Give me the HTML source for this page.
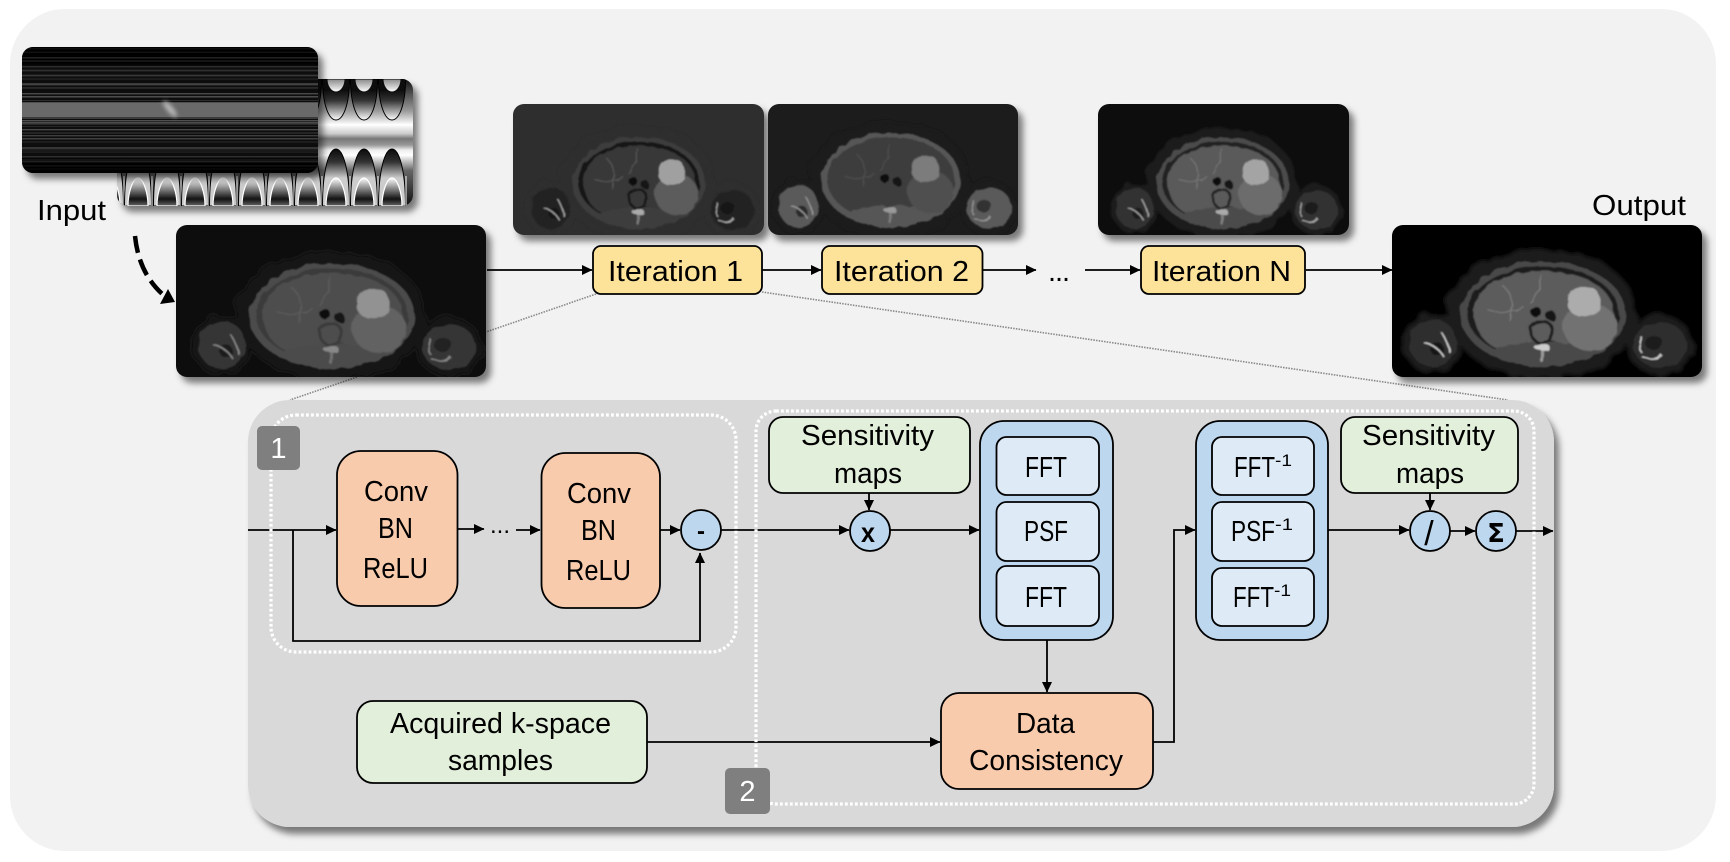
<!DOCTYPE html>
<html><head><meta charset="utf-8"><style>
html,body{margin:0;padding:0;background:#fff;width:1730px;height:862px;overflow:hidden}
svg{display:block}
text{font-family:"Liberation Sans",sans-serif;font-size:29px;fill:#000}
.l{fill:none;stroke:#000;stroke-width:1.8}
.a{fill:none;stroke:#000;stroke-width:1.8;marker-end:url(#ar)}
.dot{fill:none;stroke:#fff;stroke-width:3.2;stroke-dasharray:2.8 2.2}
.g{fill:none;stroke:#888;stroke-width:1.6;stroke-dasharray:1.5 1.2}
.n{stroke:#000;stroke-width:1.8}
.c{fill:#bdd7ee;stroke:#000;stroke-width:1.8}
</style></head><body>
<svg width="1730" height="862" viewBox="0 0 1730 862" xmlns="http://www.w3.org/2000/svg">
<defs>
<marker id="ar" markerUnits="userSpaceOnUse" markerWidth="12" markerHeight="12" refX="10" refY="6" orient="auto"><path d="M0,1L10.5,6L0,11Z" fill="#000"/></marker>
<filter id="sh" x="-10%" y="-10%" width="125%" height="130%"><feDropShadow dx="5" dy="6" stdDeviation="3.5" flood-color="#000" flood-opacity=".5"/></filter>
<filter id="sh2" x="-3%" y="-3%" width="106%" height="108%"><feDropShadow dx="5" dy="7" stdDeviation="3.5" flood-color="#000" flood-opacity=".5"/></filter>
<filter id="b1" x="-20%" y="-20%" width="140%" height="140%"><feGaussianBlur stdDeviation="1"/></filter>
<filter id="b2" x="-60%" y="-60%" width="220%" height="220%"><feGaussianBlur stdDeviation="2"/></filter>
<filter id="wob" x="-10%" y="-10%" width="120%" height="120%"><feTurbulence type="fractalNoise" baseFrequency=".09" numOctaves="2" seed="4" result="t"/><feDisplacementMap in="SourceGraphic" in2="t" scale="5" result="d"/><feGaussianBlur in="d" stdDeviation=".9"/></filter>
<filter id="wob2" x="-20%" y="-20%" width="140%" height="140%"><feTurbulence type="fractalNoise" baseFrequency=".06" numOctaves="2" seed="9" result="t"/><feDisplacementMap in="SourceGraphic" in2="t" scale="14" result="d"/><feGaussianBlur in="d" stdDeviation="2"/></filter>
<clipPath id="cK"><rect x="22" y="47" width="296" height="126" rx="11"/></clipPath>
<clipPath id="cP"><rect x="117" y="79" width="296" height="127" rx="11"/></clipPath>
<clipPath id="cIn"><rect x="176" y="225" width="310" height="152" rx="11"/></clipPath>
<clipPath id="cI1"><rect x="513" y="104" width="251" height="131" rx="11"/></clipPath>
<clipPath id="cI2"><rect x="768" y="104" width="250" height="131" rx="11"/></clipPath>
<clipPath id="cIN"><rect x="1098" y="104" width="251" height="131" rx="11"/></clipPath>
<clipPath id="cO"><rect x="1392" y="225" width="310" height="152" rx="11"/></clipPath>

<linearGradient id="pb" gradientUnits="userSpaceOnUse" x1="0" y1="79" x2="0" y2="206">
<stop offset="0" stop-color="#111"/><stop offset=".25" stop-color="#999"/><stop offset=".36" stop-color="#fff"/><stop offset=".43" stop-color="#ccc"/><stop offset=".47" stop-color="#777"/><stop offset=".52" stop-color="#999"/><stop offset=".56" stop-color="#eee"/><stop offset=".6" stop-color="#fff"/><stop offset=".72" stop-color="#666"/><stop offset="1" stop-color="#111"/></linearGradient>
<linearGradient id="u1" gradientUnits="userSpaceOnUse" x1="0" y1="90" x2="0" y2="120"><stop offset="0" stop-color="#0c0c0c"/><stop offset=".35" stop-color="#333"/><stop offset="1" stop-color="#fff"/></linearGradient>
<linearGradient id="u2" gradientUnits="userSpaceOnUse" x1="0" y1="79" x2="0" y2="92"><stop offset="0" stop-color="#888"/><stop offset="1" stop-color="#fff"/></linearGradient>
<linearGradient id="n1" gradientUnits="userSpaceOnUse" x1="0" y1="149" x2="0" y2="178"><stop offset="0" stop-color="#0a0a0a"/><stop offset=".45" stop-color="#333"/><stop offset="1" stop-color="#ccc"/></linearGradient>
<linearGradient id="n2" gradientUnits="userSpaceOnUse" x1="0" y1="178" x2="0" y2="206"><stop offset="0" stop-color="#fff"/><stop offset=".75" stop-color="#111"/><stop offset="1" stop-color="#666"/></linearGradient>
<g id="col">
<path d="M-13.500,79C-13.500,105 -7,120 0,120C7,120 13.500,105 13.500,79Z" fill="url(#u1)" stroke="#000" stroke-width="1"/>
<path d="M-9,79C-9,86 -5,92 0,92C5,92 9,86 9,79Z" fill="url(#u2)" stroke="#111" stroke-width="1"/>
<path d="M-13.500,206C-13.500,170 -7,149 0,149C7,149 13.500,170 13.500,206Z" fill="url(#n1)" stroke="#000" stroke-width="1"/>
<path d="M-10,206C-10,192 -5,178 0,178C5,178 10,192 10,206Z" fill="url(#n2)" stroke="#fff" stroke-width="1.200"/>
<path d="M14,176V206" stroke="#fff" stroke-width="1"/>
</g>

<pattern id="s1" patternUnits="userSpaceOnUse" width="10" height="9" y="47"><rect width="10" height="1.4" y="1" fill="#505050"/><rect width="10" height="1.2" y="4.4" fill="#3a3a3a"/></pattern>
<pattern id="s2" patternUnits="userSpaceOnUse" width="10" height="13" y="50"><rect width="10" height="1.4" y="7" fill="#5a5a5a"/><rect width="10" height="1" y="11" fill="#333"/></pattern>
<linearGradient id="kf" x1="0" y1="0" x2="0" y2="1"><stop offset="0" stop-color="#000" stop-opacity=".8"/><stop offset=".12" stop-color="#000" stop-opacity=".5"/><stop offset=".42" stop-color="#000" stop-opacity="0"/><stop offset=".58" stop-color="#000" stop-opacity="0"/><stop offset=".88" stop-color="#000" stop-opacity=".45"/><stop offset="1" stop-color="#000" stop-opacity=".95"/></linearGradient>

<g id="mri">
<g filter="url(#wob2)">
<ellipse cx="151" cy="89" rx="94" ry="65" style="fill:var(--halo)"/>
<ellipse cx="41" cy="118" rx="30" ry="30" style="fill:var(--halo)"/>
<ellipse cx="268" cy="120" rx="33" ry="30" style="fill:var(--halo)"/>
</g>
<g filter="url(#wob)">
<ellipse cx="41" cy="118" rx="24" ry="24" style="fill:var(--arm)"/>
<ellipse cx="268" cy="120" rx="27" ry="23" style="fill:var(--arm)"/>
<ellipse cx="45" cy="124" rx="7" ry="6" fill="#0c0c0c" opacity=".6"/>
<ellipse cx="262" cy="118" rx="9" ry="7" fill="#0c0c0c" opacity=".5"/>
<path d="M32,118Q45,120 52,132M50,108Q56,118 58,128" style="stroke:var(--v)" fill="none" stroke-width="1.500"/>
<path d="M250,132Q265,136 270,130M250,112Q246,120 250,128" style="stroke:var(--v)" fill="none" stroke-width="1.500"/>
<ellipse cx="151" cy="89" rx="83" ry="53" style="fill:var(--ring)"/>
<ellipse cx="151" cy="88" rx="76" ry="47" style="fill:var(--out)"/>
<path d="M82,88C82,62 112,46 151,46C190,46 222,62 222,90C222,116 195,128 180,126C160,112 150,112 130,126C112,132 82,118 82,88Z" style="fill:var(--liv)"/>
<ellipse cx="151" cy="128" rx="48" ry="11" style="fill:var(--ring)"/>
<ellipse cx="198" cy="102" rx="27" ry="24" style="fill:var(--lobe)"/>
<rect x="176" y="62" width="32" height="29" rx="12" style="fill:var(--sp)"/>
<path d="M110,60Q125,72 118,96M150,50Q148,68 138,78M95,84Q115,92 132,82" style="stroke:var(--ves)" fill="none" stroke-width="1.200"/>
<ellipse cx="144" cy="87" rx="5" ry="5.500" fill="#101010"/>
<ellipse cx="158" cy="90" rx="5" ry="5" fill="#151515"/>
<circle cx="150" cy="107" r="11" style="fill:var(--liv);stroke:var(--out)" stroke-width="3"/>
<ellipse cx="150" cy="122" rx="8" ry="3" style="fill:var(--v)"/>
<rect x="148.500" y="124" width="3" height="13" style="fill:var(--v)" opacity=".6"/>
</g>
</g>
</defs>

<rect x="10" y="9" width="1706" height="842" rx="55" fill="#f2f2f2"/>

<!-- phase image -->
<g filter="url(#sh)"><g clip-path="url(#cP)">
<rect x="117" y="79" width="296" height="127" fill="url(#pb)"/>
<use href="#col" x="110"/><use href="#col" x="138"/><use href="#col" x="167"/><use href="#col" x="195"/><use href="#col" x="223"/><use href="#col" x="252"/><use href="#col" x="280"/><use href="#col" x="308"/><use href="#col" x="336"/><use href="#col" x="364"/><use href="#col" x="392"/>
</g></g>
<!-- k-space -->
<g filter="url(#sh)"><g clip-path="url(#cK)">
<rect x="22" y="47" width="296" height="126" fill="#0c0c0c"/>
<rect x="22" y="47" width="296" height="126" fill="url(#s1)"/>
<rect x="22" y="47" width="296" height="126" fill="url(#s2)" opacity=".8"/>
<rect x="22" y="47" width="296" height="126" fill="url(#kf)"/>
<rect x="22" y="103" width="296" height="14" fill="#696969"/>
<rect x="22" y="117" width="296" height="2" fill="#3a3a3a"/>
<ellipse cx="170" cy="109" rx="10" ry="3" transform="rotate(50 170 109)" fill="#bbb" filter="url(#b2)"/>
</g></g>

<text x="37" y="220" textLength="69" lengthAdjust="spacingAndGlyphs">Input</text>
<text x="1592" y="215" textLength="94" lengthAdjust="spacingAndGlyphs">Output</text>

<!-- dashed input arrow -->
<path d="M135,236Q139,276 167,298" fill="none" stroke="#000" stroke-width="4.500" stroke-dasharray="17 7"/>
<path d="M175,302L160,304L168,289Z" fill="#000"/>

<!-- dotted zoom lines -->
<path class="g" d="M596,294L486,332M357,377L290,400M762,292L1508,400"/>

<!-- MRI images -->
<g filter="url(#sh)"><g clip-path="url(#cIn)"><rect x="176" y="225" width="310" height="152" fill="#0f0f0f"/>
<use href="#mri" transform="translate(181,227)" style="--halo:#161616;--arm:#343434;--ring:#4c4c4c;--out:#3a3a3a;--liv:#4e4e4e;--lobe:#626262;--sp:#929292;--v:#888;--ves:#5c5c5c"/></g></g>
<g filter="url(#sh)"><g clip-path="url(#cI1)"><rect x="513" y="104" width="251" height="131" fill="#2e2e2e"/>
<use href="#mri" transform="translate(518,105.600) scale(.8,.87)" style="--halo:#2e2e2e;--arm:#202020;--ring:#3e3e3e;--out:#161616;--liv:#383838;--lobe:#5c5c5c;--sp:#a0a0a0;--v:#aaa;--ves:#5a5a5a"/></g></g>
<g filter="url(#sh)"><g clip-path="url(#cI2)"><rect x="768" y="104" width="250" height="131" fill="#1c1c1c"/>
<use href="#mri" transform="translate(764,100) scale(.84,.9)" style="--halo:#1c1c1c;--arm:#5a5a5a;--ring:#565656;--out:#3c3c3c;--liv:#3c3c3c;--lobe:#505050;--sp:#7c7c7c;--v:#999;--ves:#505050"/></g></g>
<g filter="url(#sh)"><g clip-path="url(#cIN)"><rect x="1098" y="104" width="251" height="131" fill="#0c0c0c"/>
<use href="#mri" transform="translate(1102,105.600) scale(.8,.87)" style="--halo:#1a1a1a;--arm:#303030;--ring:#4c4c4c;--out:#222;--liv:#5a5a5a;--lobe:#6c6c6c;--sp:#a4a4a4;--v:#aaa;--ves:#777"/></g></g>
<g filter="url(#sh)"><g clip-path="url(#cO)"><rect x="1392" y="225" width="310" height="152" fill="#020202"/>
<use href="#mri" transform="translate(1392,225)" style="--halo:#1a1a1a;--arm:#2e2e2e;--ring:#4a4a4a;--out:#1e1e1e;--liv:#5c5c5c;--lobe:#727272;--sp:#acacac;--v:#ccc;--ves:#7c7c7c"/></g></g>

<!-- top row connectors -->
<path class="a" d="M487,270H592"/>
<path class="a" d="M762,270H821"/>
<path class="a" d="M983,270H1036"/>
<path class="a" d="M1085,270H1140"/>
<path class="a" d="M1306,270H1392"/>
<text x="1048" y="281" textLength="22">...</text>

<!-- iteration nodes -->
<rect class="n" x="593" y="246" width="169" height="48" rx="8" fill="#fde29a"/>
<rect class="n" x="822" y="246" width="160.500" height="48" rx="8" fill="#fde29a"/>
<rect class="n" x="1141" y="246" width="164" height="48" rx="8" fill="#fde29a"/>
<text x="608" y="281" textLength="135" lengthAdjust="spacingAndGlyphs">Iteration 1</text>
<text x="834" y="281" textLength="135" lengthAdjust="spacingAndGlyphs">Iteration 2</text>
<text x="1152" y="281" textLength="139" lengthAdjust="spacingAndGlyphs">Iteration N</text>

<!-- detail panel -->
<rect x="248" y="400" width="1306" height="427" rx="42" fill="#d9d9d9" filter="url(#sh2)"/>

<!-- nodes -->
<rect class="n" x="337" y="451" width="120.500" height="155" rx="24" fill="#f8cbad"/>
<rect class="n" x="541.500" y="453" width="118.500" height="155" rx="24" fill="#f8cbad"/>
<text x="364" y="501" textLength="64" lengthAdjust="spacingAndGlyphs">Conv</text>
<text x="378" y="538" textLength="35" lengthAdjust="spacingAndGlyphs">BN</text>
<text x="363" y="578" textLength="65" lengthAdjust="spacingAndGlyphs">ReLU</text>
<text x="567" y="503" textLength="64" lengthAdjust="spacingAndGlyphs">Conv</text>
<text x="581" y="540" textLength="35" lengthAdjust="spacingAndGlyphs">BN</text>
<text x="566" y="580" textLength="65" lengthAdjust="spacingAndGlyphs">ReLU</text>

<rect class="n" x="769" y="417" width="201" height="76" rx="14" fill="#e2efda"/>
<text x="801" y="445" textLength="133" lengthAdjust="spacingAndGlyphs">Sensitivity</text>
<text x="834" y="483" textLength="68" lengthAdjust="spacingAndGlyphs">maps</text>
<rect class="n" x="1341" y="417" width="177" height="76" rx="14" fill="#e2efda"/>
<text x="1362" y="445" textLength="133" lengthAdjust="spacingAndGlyphs">Sensitivity</text>
<text x="1396" y="483" textLength="68" lengthAdjust="spacingAndGlyphs">maps</text>

<rect class="n" x="980" y="421" width="133" height="219" rx="24" fill="#bdd7ee"/>
<rect class="n" x="996.500" y="437" width="102.500" height="58" rx="10" fill="#deebf7"/>
<rect class="n" x="996.500" y="502" width="102.500" height="59" rx="10" fill="#deebf7"/>
<rect class="n" x="996.500" y="566" width="102.500" height="60" rx="10" fill="#deebf7"/>
<text x="1025" y="477" textLength="42" lengthAdjust="spacingAndGlyphs">FFT</text>
<text x="1024" y="541" textLength="44" lengthAdjust="spacingAndGlyphs">PSF</text>
<text x="1025" y="607" textLength="42" lengthAdjust="spacingAndGlyphs">FFT</text>

<rect class="n" x="1196" y="421" width="132" height="219" rx="24" fill="#bdd7ee"/>
<rect class="n" x="1212" y="437" width="102" height="58" rx="10" fill="#deebf7"/>
<rect class="n" x="1212" y="502" width="102" height="59" rx="10" fill="#deebf7"/>
<rect class="n" x="1212" y="568" width="102" height="58" rx="10" fill="#deebf7"/>
<text x="1234" y="477" textLength="41" lengthAdjust="spacingAndGlyphs">FFT</text>
<text x="1275" y="466" style="font-size:17px" textLength="17" lengthAdjust="spacingAndGlyphs">-1</text>
<text x="1231" y="541" textLength="44" lengthAdjust="spacingAndGlyphs">PSF</text>
<text x="1275" y="530" style="font-size:17px" textLength="18" lengthAdjust="spacingAndGlyphs">-1</text>
<text x="1233" y="607" textLength="41" lengthAdjust="spacingAndGlyphs">FFT</text>
<text x="1274" y="596" style="font-size:17px" textLength="17" lengthAdjust="spacingAndGlyphs">-1</text>

<rect class="n" x="941" y="693" width="212" height="96" rx="18" fill="#f8cbad"/>
<text x="1016" y="733" textLength="59" lengthAdjust="spacingAndGlyphs">Data</text>
<text x="969" y="770" textLength="154" lengthAdjust="spacingAndGlyphs">Consistency</text>
<rect class="n" x="357" y="701" width="290" height="82" rx="16" fill="#e2efda"/>
<text x="390" y="733" textLength="221" lengthAdjust="spacingAndGlyphs">Acquired k-space</text>
<text x="448" y="770" textLength="105" lengthAdjust="spacingAndGlyphs">samples</text>

<!-- connectors -->
<path class="a" d="M248,530H336"/>
<path class="a" d="M293,530V641H700V553"/>
<path class="a" d="M458,529H484"/>
<text x="490" y="533" style="font-size:24px" textLength="20">...</text>
<path class="a" d="M516,530H540"/>
<path class="a" d="M660,530H680"/>
<path class="a" d="M721,530H849"/>
<path class="a" d="M869,493V510"/>
<path class="a" d="M890,530H979"/>
<path class="a" d="M1047,640V692"/>
<path class="a" d="M647,742H940"/>
<path class="a" d="M1153,742H1174V530H1195"/>
<path class="a" d="M1328,530H1409"/>
<path class="a" d="M1430,493V510"/>
<path class="a" d="M1450,531H1475"/>
<path class="a" d="M1516,531H1553"/>

<!-- circles -->
<circle class="c" cx="701" cy="530" r="20"/>
<circle class="c" cx="870" cy="531" r="20"/>
<circle class="c" cx="1430" cy="531" r="20"/>
<circle class="c" cx="1496" cy="531" r="20"/>
<text x="701" y="539" text-anchor="middle" style="font-size:24px;font-weight:bold">-</text>
<text x="868" y="542" text-anchor="middle" style="font-size:28px;font-weight:bold" textLength="14" lengthAdjust="spacingAndGlyphs">x</text>
<text x="1429" y="545" text-anchor="middle" style="font-size:34px">/</text>
<text x="1496" y="542" text-anchor="middle" style="font-size:26px;font-weight:bold;font-family:'DejaVu Sans',sans-serif">Σ</text>

<!-- dotted groups -->
<rect class="dot" x="271" y="415" width="465" height="237" rx="25"/>
<rect class="dot" x="756" y="411" width="778" height="393" rx="20"/>

<!-- badges -->
<rect x="257" y="426" width="43" height="44" rx="5" fill="#7f7f7f"/>
<text x="278.500" y="458" text-anchor="middle" style="fill:#fff">1</text>
<rect x="725" y="768" width="45" height="46" rx="5" fill="#7f7f7f"/>
<text x="747.500" y="801" text-anchor="middle" style="fill:#fff">2</text>
</svg>
</body></html>
